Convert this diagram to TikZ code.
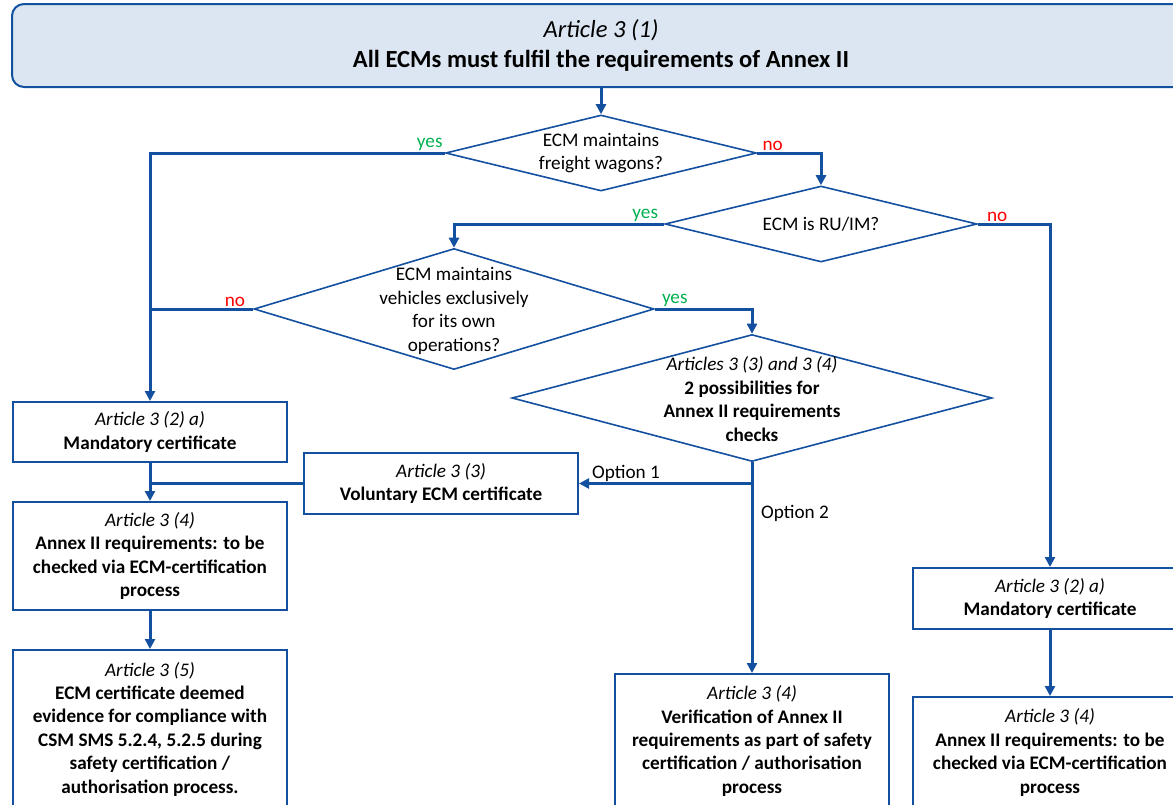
\documentclass[tikz,border=0pt]{standalone}
\usepackage{fontspec}
\setmainfont{Carlito}
\usetikzlibrary{shapes.geometric,arrows.meta}
\definecolor{ecmblue}{RGB}{20,80,160}
\definecolor{ecmfill}{RGB}{220,230,242}
\definecolor{yesgreen}{RGB}{0,176,80}
\definecolor{nored}{RGB}{255,0,0}

\tikzset{
  box/.style={draw=ecmblue, line width=2pt, rectangle, align=center, inner sep=0pt, minimum width=274pt},
  decision/.style={draw=ecmblue, line width=1.6pt, diamond, inner sep=0pt},
  conn/.style={draw=ecmblue, line width=3pt, -{Triangle[width=10pt,length=10pt]}},
  link/.style={draw=ecmblue, line width=3pt},
  yeslbl/.style={text=yesgreen, inner sep=2pt},
  nolbl/.style={text=nored, inner sep=2pt},
  optlbl/.style={inner sep=2pt}
}

\begin{document}
\begin{tikzpicture}[x=1pt,y=-1pt, font=\fontsize{19.2}{23.4}\selectfont]
\useasboundingbox (0,0) rectangle (1173,804);
\clip (0,0) rectangle (1173,804);

% header
\node[box, rounded corners=12pt, fill=ecmfill, minimum width=1178pt, minimum height=83pt,
  font=\fontsize{24.6}{30}\selectfont] (top) at (601,45.5)
  {\textit{Article 3 (1)}\\\textbf{All ECMs must fulfil the requirements of Annex II}};

% decisions
\node[decision, minimum width=311pt, minimum height=76pt] (d1) at (601,153) {};
\node[align=center] at (d1) {ECM maintains\\freight wagons?};
\node[decision, minimum width=312pt, minimum height=76pt] (d2) at (821,224) {};
\node[align=center] at (d2) {ECM is RU/IM?};
\node[decision, minimum width=400pt, minimum height=121pt] (d3) at (454,309) {};
\node[align=center] at ([yshift=-2pt]d3) {ECM maintains\\vehicles exclusively\\for its own\\operations?};
\node[decision, minimum width=480pt, minimum height=127pt] (d4) at (752,398) {};
\node[align=center] at ([yshift=-1pt]d4) {\textit{Articles 3 (3) and 3 (4)}\\\textbf{2 possibilities for}\\\textbf{Annex II requirements}\\\textbf{checks}};

% boxes
\node[box, minimum height=60pt] (mand1) at (150,432)
  {\textit{Article 3 (2) a)}\\\textbf{Mandatory certificate}};
\node[box, minimum height=108pt] (annex1) at (150,556)
  {\textit{Article 3 (4)}\\\textbf{Annex II requirements: to be}\\\textbf{checked via ECM-certification}\\\textbf{process}};
\node[box, minimum height=158pt] (art5) at (150,729)
  {\textit{Article 3 (5)}\\\textbf{ECM certificate deemed}\\\textbf{evidence for compliance with}\\\textbf{CSM SMS 5.2.4, 5.2.5 during}\\\textbf{safety certification /}\\\textbf{authorisation process.}};
\node[box, minimum height=61pt] (vol) at (441,483.5)
  {\textit{Article 3 (3)}\\\textbf{Voluntary ECM certificate}};
\node[box, minimum height=134pt] (verif) at (752,741)
  {\textit{Article 3 (4)}\\\textbf{Verification of Annex II}\\\textbf{requirements as part of safety}\\\textbf{certification / authorisation}\\\textbf{process}};
\node[box, minimum height=61pt] (mand2) at (1050,598.5)
  {\textit{Article 3 (2) a)}\\\textbf{Mandatory certificate}};
\node[box, minimum height=111pt] (annex2) at (1050,752.5)
  {\textit{Article 3 (4)}\\\textbf{Annex II requirements: to be}\\\textbf{checked via ECM-certification}\\\textbf{process}};

% connectors
\draw[conn] (top.south) -- (d1.north);
\draw[conn] (d1.west) -| (mand1.north);
\draw[conn] (d1.east) -| (d2.north);
\draw[conn] (d2.west) -| (d3.north);
\draw[conn] (d2.east) -| (mand2.north);
\draw[link] (d3.west) -- (d3.west -| mand1.north);
\draw[conn] (d3.east) -| (d4.north);
\draw[conn] (d4.south) -- (verif.north);
\draw[conn] (d4.south |- vol.east) -- (vol.east);
\draw[link] (vol.west) -- (vol.west -| mand1.south);
\draw[conn] (mand1.south) -- (annex1.north);
\draw[conn] (annex1.south) -- (art5.north);
\draw[conn] (mand2.south) -- (annex2.north);

% yes / no
\node[yeslbl, anchor=south east] (y1) at (d1.west) {yes};
\node[nolbl, anchor=south west, xshift=3pt] (n1) at (d1.east) {no};
\node[yeslbl, anchor=south east, xshift=-4pt] (y2) at (d2.west) {yes};
\node[nolbl, anchor=south west, xshift=7pt] (n2) at (d2.east) {no};
\node[nolbl, anchor=south east, xshift=-6pt] (n3) at (d3.west) {no};
\node[yeslbl, anchor=south west, xshift=5pt] (y3) at (d3.east) {yes};
\node[optlbl, anchor=south west, xshift=11pt] (o1) at (vol.east) {Option 1};
\node[optlbl, anchor=west] (o2) at (759,513) {Option 2};
\end{tikzpicture}
\end{document}
